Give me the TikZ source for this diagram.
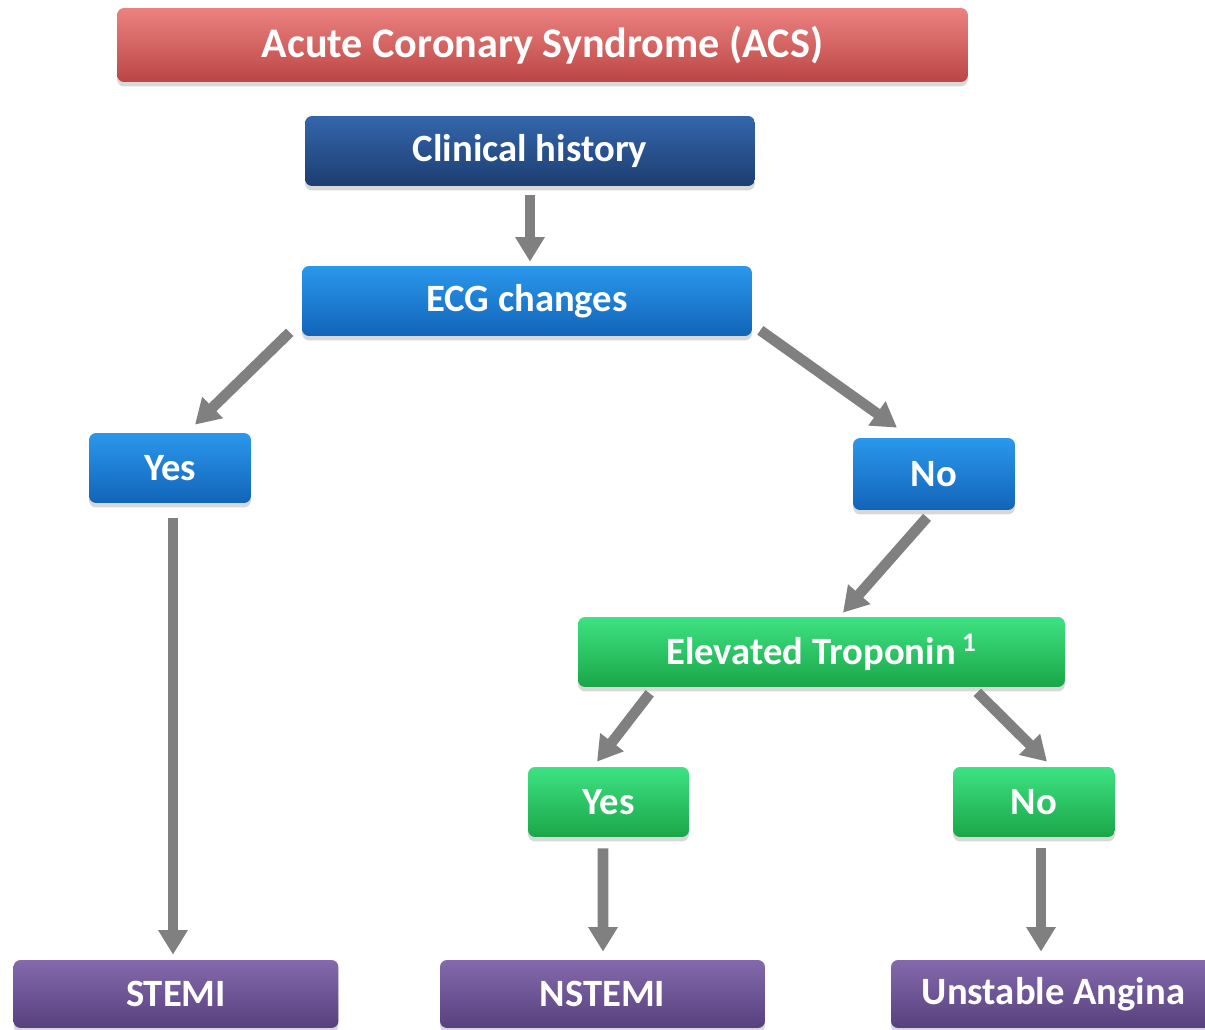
\documentclass[tikz,border=0pt]{standalone}
\usepackage{fontspec}
\setmainfont{Carlito}
\usetikzlibrary{arrows.meta,calc,shadows}
\definecolor{acsTop}{RGB}{236,130,128}
\definecolor{acsBot}{RGB}{186,70,68}
\definecolor{histTop}{RGB}{52,102,172}
\definecolor{histBot}{RGB}{28,62,112}
\definecolor{ecgTop}{RGB}{42,152,236}
\definecolor{ecgBot}{RGB}{18,100,184}
\definecolor{tropTop}{RGB}{62,226,130}
\definecolor{tropBot}{RGB}{26,166,72}
\definecolor{outTop}{RGB}{132,106,172}
\definecolor{outBot}{RGB}{88,64,126}
\definecolor{arGray}{RGB}{128,128,128}
\tikzset{
  box/.style     = {rectangle, rounded corners=4pt, draw=none, text=white,
                    font=\bfseries\fontsize{22}{26}\selectfont,
                    minimum height=1.4cm, inner sep=2pt,
                    drop shadow={shadow xshift=0pt, shadow yshift=-2.5pt, opacity=0.3}},
  acsbox/.style  = {box, top color=acsTop, bottom color=acsBot,
                    font=\bfseries\fontsize{24}{28}\selectfont, minimum height=1.48cm},
  histbox/.style = {box, top color=histTop, bottom color=histBot},
  ecgbox/.style  = {box, top color=ecgTop, bottom color=ecgBot},
  tropbox/.style = {box, top color=tropTop, bottom color=tropBot},
  outbox/.style  = {box, top color=outTop, bottom color=outBot, minimum width=6.5cm},
  ar/.style      = {-{Triangle[width=16pt,length=14pt]}, draw=arGray, line width=6pt}
}
\begin{document}
\begin{tikzpicture}[x=0.02cm, y=-0.02cm]
  \useasboundingbox[fill=white] (0,0) rectangle (1205,1030);
  % boxes
  \node[acsbox, minimum width=17.02cm] (acs) at (542.5,45) {Acute Coronary Syndrome (ACS)};
  \node[histbox, minimum width=9cm] (hist) at (530,151) {Clinical history};
  \node[ecgbox, minimum width=9cm] (ecg) at (527,301) {ECG changes};
  \node[ecgbox, minimum width=3.24cm] (yesA) at (170,468) {Yes};
  \node[ecgbox, minimum width=3.24cm, minimum height=1.44cm] (noA) at (934,474) {No};
  \node[tropbox, minimum width=9.74cm] (trop) at (821.5,652) {Elevated Troponin\,\textsuperscript{1}};
  \node[tropbox, minimum width=3.22cm] (yesB) at (608.5,802) {Yes};
  \node[tropbox, minimum width=3.24cm] (noB) at (1034,802) {No};
  \node[outbox, minimum height=1.36cm] (stemi) at (176,994) {STEMI};
  \node[outbox, minimum height=1.36cm] (nstemi) at (602.5,994) {NSTEMI};
  \node[outbox, minimum height=1.36cm] (ua) at (1053.5,994) {Unstable Angina};
  % arrows
  \draw[ar] ($(hist.south)+(0,9)$) -- ($(ecg.north)+(3,-4)$);
  \draw[ar] ($(ecg.south west)+(-12,-4)$) -- ($(yesA.north)+(25,-8)$);
  \draw[ar] ($(ecg.south east)+(8,-6)$) -- ($(noA.north)+(-37,-10)$);
  \draw[ar] ($(yesA.south)+(3,15)$) -- ($(stemi.north)+(-3,-5)$);
  \draw[ar] ($(noA.south)+(-7,7)$) -- ($(trop.north)+(21.5,-4)$);
  \draw[ar] ($(trop.south west)+(72,6)$) -- ($(yesB.north)+(-11.5,-5)$);
  \draw[ar] ($(trop.south east)+(-88,5)$) -- ($(noB.north)+(13,-5)$);
  \draw[ar] ($(yesB.south)+(-5.5,11)$) -- ($(nstemi.north)+(0.5,-8)$);
  \draw[ar] ($(noB.south)+(7,11)$) -- ($(ua.north)+(-12.5,-8)$);
\end{tikzpicture}
\end{document}
